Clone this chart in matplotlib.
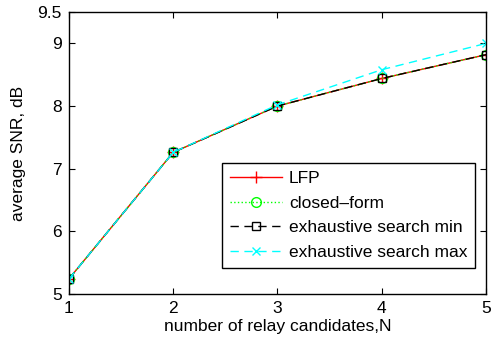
import numpy as np
import matplotlib
matplotlib.use("Agg")
import matplotlib.pyplot as plt

plt.rcParams['font.family'] = ['Liberation Sans', 'DejaVu Sans']

# data
n_relays = [1, 2, 3, 4, 5]
snr_lfp = [5.24, 7.26, 8.00, 8.44, 8.82]
snr_closed = [5.24, 7.26, 8.00, 8.44, 8.82]
snr_es_min = [5.24, 7.26, 8.00, 8.44, 8.82]
snr_es_max = [5.24, 7.26, 8.02, 8.58, 9.00]

fig = plt.figure(figsize=(4.92, 3.45), dpi=100)
ax = fig.add_axes([0.140, 0.148, 0.848, 0.817])

ax.plot(n_relays, snr_lfp, color='red', linestyle='-', marker='+', markersize=8,
        linewidth=1, label='LFP')
ax.plot(n_relays, snr_closed, color='#00ff00', linestyle=':', marker='o', markersize=7,
        markerfacecolor='none', linewidth=1, label='closed\u2013form')
ax.plot(n_relays, snr_es_min, color='black', linestyle=(0, (6, 4)), marker='s', markersize=6,
        markerfacecolor='none', linewidth=1, label='exhaustive search min')
ax.plot(n_relays, snr_es_max, color='cyan', linestyle=(0, (6, 4)), marker='x', markersize=6,
        linewidth=1, label='exhaustive search max')

ax.set_xlim(1, 5)
ax.set_ylim(5, 9.5)
ax.set_xticks([1, 2, 3, 4, 5])
ax.set_yticks([5, 6, 7, 8, 9, 9.5])
ax.set_yticklabels(['5', '6', '7', '8', '9', '9.5'])
ax.tick_params(direction='in', top=True, right=True, labelsize=12.5, length=4, pad=5)
for s in ax.spines.values():
    s.set_linewidth(1)

ax.set_xlabel('number of relay candidates,N', fontsize=12.5, labelpad=2)
ax.set_ylabel('average SNR, dB', fontsize=12.5, labelpad=8)

leg = ax.legend(loc='lower right', bbox_to_anchor=(0.974, 0.092), fontsize=12.5,
                handlelength=3.0, handletextpad=0.4, fancybox=False, framealpha=1,
                edgecolor='black', borderaxespad=0, labelspacing=0.55, borderpad=0.45)
leg.get_frame().set_linewidth(1)

fig.savefig('out.png', dpi=100)
